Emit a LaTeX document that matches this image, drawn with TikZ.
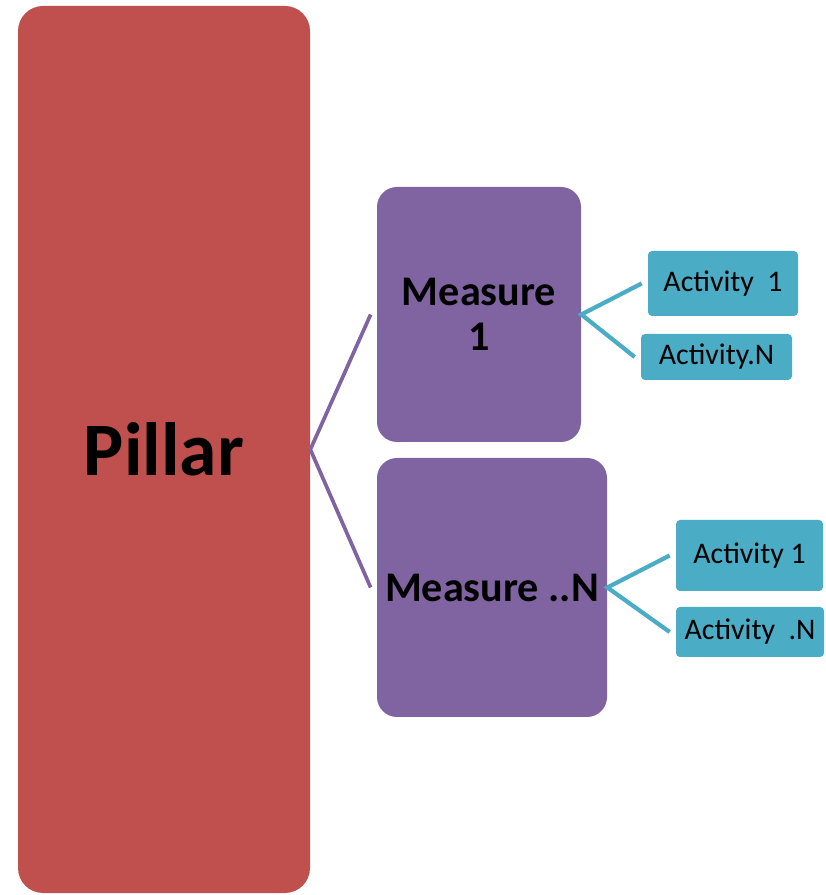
\documentclass[tikz,border=0pt]{standalone}
\usepackage{fontspec}
\setmainfont{Carlito}
\definecolor{pillarred}{HTML}{C0504D}
\definecolor{measurepurple}{HTML}{8064A2}
\definecolor{activitycyan}{HTML}{4BACC6}
\begin{document}
\begin{tikzpicture}[
  pillarbox/.style={fill=pillarred, rounded corners=0.5cm, inner sep=0pt,
    font=\fontsize{43}{50}\selectfont\bfseries},
  measurebox/.style={fill=measurepurple, rounded corners=0.4cm, inner sep=0pt,
    align=center, font=\fontsize{24}{25.5}\selectfont\bfseries},
  activitybox/.style={fill=activitycyan, rounded corners=0.08cm, inner sep=0pt,
    font=\fontsize{17}{20}\selectfont},
  pillarlink/.style={draw=measurepurple, line width=2.1pt},
  measurelink/.style={draw=activitycyan, line width=2.4pt}]
  \useasboundingbox (0,0) rectangle (16.5,17.9);
  \node[pillarbox, minimum width=5.84cm, minimum height=17.74cm] (pillar) at (3.28,8.91) {Pillar};
  \node[measurebox, minimum width=4.08cm, minimum height=5.10cm] (m1) at (9.58,11.61) {Measure\\1};
  \node[measurebox, minimum width=4.60cm, minimum height=5.18cm] (mN) at (9.84,6.15) {Measure ..N};
  \node[activitybox, minimum width=3.00cm, minimum height=1.30cm] (a11) at (14.46,12.23) {Activity\ \ 1};
  \node[activitybox, minimum width=3.02cm, minimum height=0.92cm] (a1N) at (14.33,10.76) {Activity.N};
  \node[activitybox, minimum width=2.94cm, minimum height=1.42cm] (aN1) at (14.99,6.79) {Activity 1};
  \node[activitybox, minimum width=2.96cm, minimum height=1.00cm] (aNN) at (15.00,5.26) {Activity\ \ .N};
  % connectors
  \draw[pillarlink] ([xshift=-0.12cm]m1.west) -- (pillar.east) -- ([xshift=-0.12cm]mN.west);
  \draw[measurelink] ([xshift=-0.12cm]a11.west) -- (m1.east) -- ([xshift=-0.12cm]a1N.west);
  \draw[measurelink] ([xshift=-0.12cm]aN1.west) -- (mN.east) -- ([xshift=-0.12cm]aNN.west);
\end{tikzpicture}
\end{document}
